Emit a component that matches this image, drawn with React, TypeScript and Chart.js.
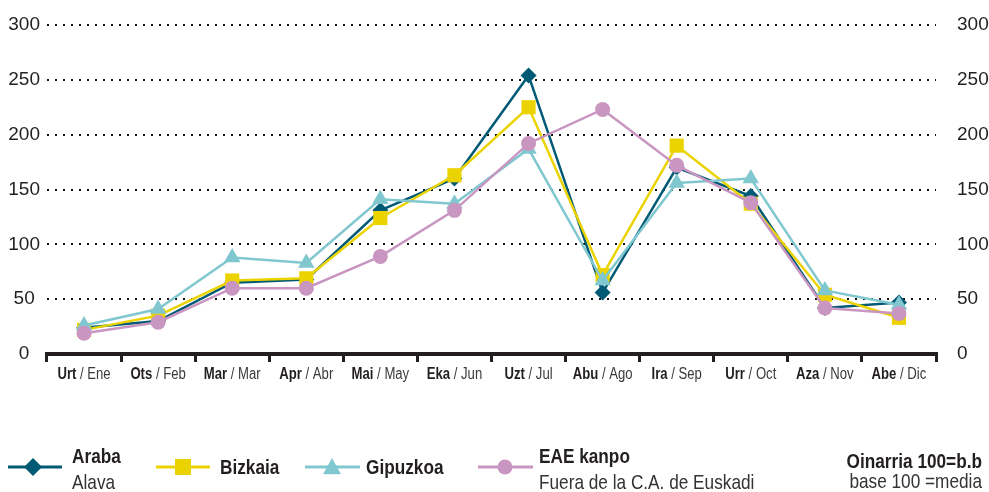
import React, { useEffect, useRef } from 'react';
import { Chart, registerables } from 'chart.js';

Chart.register(...registerables);

const monthsEu = ['Urt', 'Ots', 'Mar', 'Apr', 'Mai', 'Eka', 'Uzt', 'Abu', 'Ira', 'Urr', 'Aza', 'Abe'];
const monthsEs = ['Ene', 'Feb', 'Mar', 'Abr', 'May', 'Jun', 'Jul', 'Ago', 'Sep', 'Oct', 'Nov', 'Dic'];

const araba = [24, 30, 65, 68, 131, 160, 254, 56, 170, 144, 42, 47];
const bizkaia = [22, 35, 67, 69, 124, 163, 225, 72, 190, 137, 54, 33];
const gipuzkoa = [26, 41, 88, 83, 141, 137, 187, 67, 156, 160, 58, 45];
const eaeKanpo = [19, 29, 60, 60, 89, 131, 192, 223, 172, 138, 42, 37];

const seriesNames = ['Araba', 'Bizkaia', 'Gipuzkoa', 'EAE kanpo'];
const seriesSubNames = ['Alava', '', '', 'Fuera de la C.A. de Euskadi'];
const baseNoteBold = 'Oinarria 100=b.b';
const baseNote = 'base 100 =media';

const COLORS = ['#005a74', '#ebd300', '#80c7cf', '#c995c1'];
const STYLES = ['rectRot', 'rect', 'triangle', 'circle'];

const SANS = '"Liberation Sans", Arial, sans-serif';
const TEXT = '#231f20';
const SQUEEZE = 0.82;

function drawMarker(ctx: CanvasRenderingContext2D, style: string, x: number, y: number, r: number, color: string) {
  ctx.fillStyle = color;
  ctx.beginPath();
  if (style === 'rectRot') {
    ctx.moveTo(x, y - r);
    ctx.lineTo(x + r, y);
    ctx.lineTo(x, y + r);
    ctx.lineTo(x - r, y);
  } else if (style === 'rect') {
    ctx.rect(x - r, y - r, 2 * r, 2 * r);
  } else if (style === 'triangle') {
    ctx.moveTo(x, y - r);
    ctx.lineTo(x + r, y + r * 0.8);
    ctx.lineTo(x - r, y + r * 0.8);
  } else {
    ctx.arc(x, y, r, 0, Math.PI * 2);
  }
  ctx.closePath();
  ctx.fill();
}

function narrowText(ctx: CanvasRenderingContext2D, text: string, x: number, y: number, font: string, color: string, align = 'left') {
  ctx.save();
  ctx.font = font;
  ctx.fillStyle = color;
  ctx.textBaseline = 'alphabetic';
  ctx.textAlign = align as CanvasTextAlign;
  ctx.translate(x, y);
  ctx.scale(SQUEEZE, 1);
  ctx.fillText(text, 0, 0);
  ctx.restore();
}

function narrowWidth(ctx: CanvasRenderingContext2D, text: string, font: string) {
  ctx.save();
  ctx.font = font;
  const w = ctx.measureText(text).width * SQUEEZE;
  ctx.restore();
  return w;
}

const xLabelPlugin = {
  id: 'xLabels',
  afterDraw(chart: any) {
    const ctx: CanvasRenderingContext2D = chart.ctx;
    const xs = chart.scales.x;
    const y = xs.top + 25;
    const boldF = `bold 16px ${SANS}`;
    const regF = `16px ${SANS}`;
    monthsEu.forEach((eu, i) => {
      const cx = xs.getPixelForValue(i);
      const b = ' / ' + monthsEs[i];
      const wa = narrowWidth(ctx, eu, boldF);
      const wb = narrowWidth(ctx, b, regF);
      const x0 = cx - (wa + wb) / 2;
      narrowText(ctx, eu, x0, y, boldF, TEXT);
      narrowText(ctx, b, x0 + wa, y, regF, '#3a3a3a');
    });
  },
};

const legendPlugin = {
  id: 'customLegend',
  afterDraw(chart: any) {
    const ctx: CanvasRenderingContext2D = chart.ctx;
    ctx.save();
    const lineY = 467;
    const items = [
      { x0: 8, x1: 62, mx: 33, r: 9, tx: 72 },
      { x0: 156, x1: 210, mx: 183, r: 8, tx: 220 },
      { x0: 305, x1: 360, mx: 332, r: 9, tx: 366 },
      { x0: 478, x1: 533, mx: 505, r: 7.5, tx: 539 },
    ];
    const bf = `bold 21px ${SANS}`;
    const rf = `21px ${SANS}`;
    items.forEach((it, i) => {
      ctx.strokeStyle = COLORS[i];
      ctx.lineWidth = 3;
      ctx.beginPath();
      ctx.moveTo(it.x0, lineY);
      ctx.lineTo(it.x1, lineY);
      ctx.stroke();
      drawMarker(ctx, STYLES[i], it.mx, lineY, it.r, COLORS[i]);
      if (seriesSubNames[i]) {
        narrowText(ctx, seriesNames[i], it.tx, 463, bf, TEXT);
        narrowText(ctx, seriesSubNames[i], it.tx, 489, rf, '#333');
      } else {
        narrowText(ctx, seriesNames[i], it.tx, 474, bf, TEXT);
      }
    });
    narrowText(ctx, baseNoteBold, 982, 468, bf, TEXT, 'right');
    narrowText(ctx, baseNote, 982, 488, rf, '#333', 'right');
    ctx.restore();
  },
};

export default function App() {
  const ref = useRef<HTMLCanvasElement>(null);

  useEffect(() => {
    if (!ref.current) return;
    const data = [araba, bizkaia, gipuzkoa, eaeKanpo];
    const radii = [8, 10, 9.5, 7.5];
    const chart = new Chart(ref.current, {
      type: 'line',
      data: {
        labels: monthsEu.map((m, i) => m + ' / ' + monthsEs[i]),
        datasets: data.map((d, i) => ({
          label: seriesNames[i],
          data: d,
          borderColor: COLORS[i],
          backgroundColor: COLORS[i],
          pointBackgroundColor: COLORS[i],
          pointBorderColor: COLORS[i],
          pointBorderWidth: 0,
          pointStyle: STYLES[i] as any,
          pointRadius: radii[i],
          borderWidth: 2.5,
          tension: 0,
          clip: false as any,
          order: 3 - i,
        })),
      },
      options: {
        responsive: false,
        animation: false,
        devicePixelRatio: 1,
        layout: { padding: { top: 25, left: 0, right: 0, bottom: 0 } },
        plugins: { legend: { display: false }, tooltip: { enabled: false } },
        scales: {
          x: {
            type: 'category',
            offset: true,
            grid: {
              offset: true,
              drawOnChartArea: false,
              drawTicks: true,
              tickLength: 8,
              lineWidth: 3,
              color: TEXT,
            },
            border: { display: true, color: TEXT, width: 4 },
            ticks: { display: false },
            afterFit: (s: any) => {
              s.height = 138;
              s.paddingLeft = 0;
              s.paddingRight = 0;
            },
          },
          y: {
            position: 'left',
            min: 0,
            max: 300,
            ticks: {
              stepSize: 50,
              padding: 7,
              crossAlign: 'center',
              color: TEXT,
              font: { family: SANS, size: 19 },
            },
            grid: { color: '#111', lineWidth: 2, drawTicks: false },
            border: { display: false, dash: [2, 6] },
            afterFit: (s: any) => {
              s.width = 47;
              s.paddingTop = 0;
              s.paddingBottom = 0;
            },
          },
          y1: {
            position: 'right',
            min: 0,
            max: 300,
            ticks: {
              stepSize: 50,
              padding: 21,
              crossAlign: 'near',
              color: TEXT,
              font: { family: SANS, size: 19 },
            },
            grid: { display: false, drawTicks: false },
            border: { display: false },
            afterFit: (s: any) => {
              s.width = 53;
              s.paddingTop = 0;
              s.paddingBottom = 0;
            },
          },
        },
      },
      plugins: [xLabelPlugin, legendPlugin],
    });
    return () => chart.destroy();
  }, []);

  return (
    <div style={{ position: 'absolute', left: 0, top: 0, width: 989, height: 492, background: '#fff' }}>
      <canvas ref={ref} width={989} height={492} style={{ display: 'block', width: 989, height: 492 }} />
    </div>
  );
}
